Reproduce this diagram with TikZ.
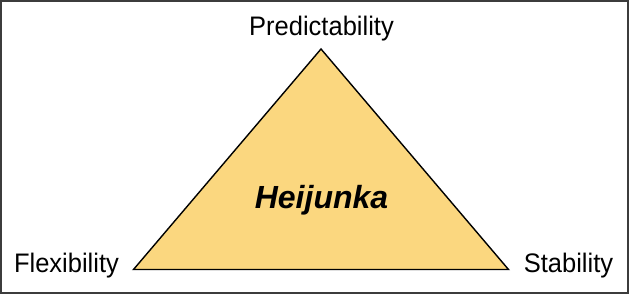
\documentclass[tikz,border=0pt]{standalone}
\usepackage{fontspec}
\setmainfont{Liberation Sans}
\begin{document}
\begin{tikzpicture}[x=1pt,y=1pt,
  corner/.style={font=\fontsize{25.5}{30}\selectfont, anchor=base, inner sep=0pt, yscale=1.05},
  title/.style={font=\fontsize{32}{38}\selectfont\bfseries\itshape, anchor=base, inner sep=0pt}]
  \definecolor{triFill}{RGB}{251,215,127}
  \definecolor{frameGray}{RGB}{60,60,60}
  % frame
  \draw[frameGray, line width=2pt, fill=white] (1,1) rectangle (628,293);
  \useasboundingbox (0,0) rectangle (629,294);
  % triangle corners
  \coordinate (top) at (321,245);
  \coordinate (left) at (133.5,24.5);
  \coordinate (right) at (508.5,24.5);
  \draw[fill=triFill, line width=1.4pt, line join=miter] (top) -- (left) -- (right) -- cycle;
  % labels
  \node[corner] (pred) at (321.5,258) {Predictability};
  \node[corner] (flex) at (66.5,21) {Flexibility};
  \node[corner] (stab) at (568.5,21) {Stability};
  \node[title] (heij) at (321.5,85) {Heijunka};
\end{tikzpicture}
\end{document}
